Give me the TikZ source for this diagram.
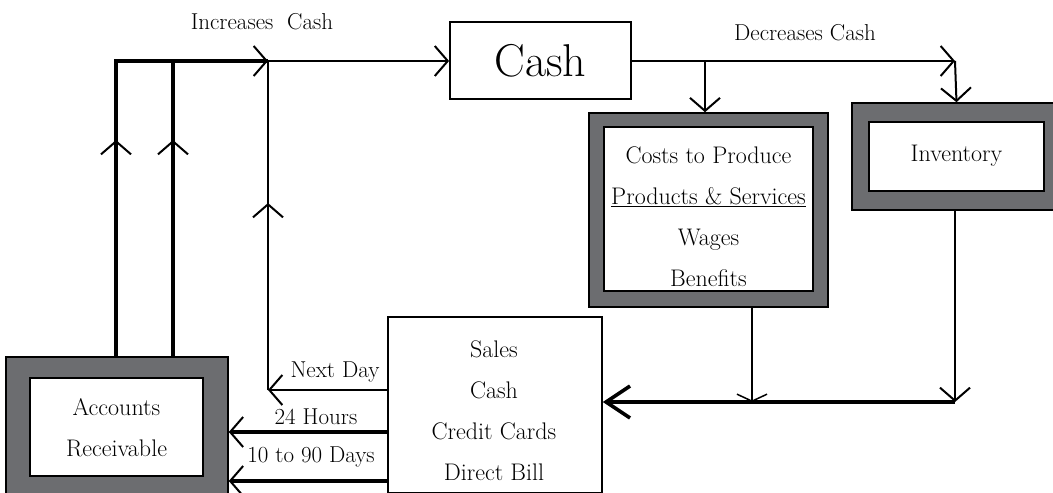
\documentclass[tikz,border=0pt]{standalone}
\usepackage{fontspec}
\usetikzlibrary{arrows.meta}
\definecolor{framegray}{RGB}{108,109,112}
\tikzset{
  cfouter/.style={fill=framegray, draw=black, line width=1.6pt, inner sep=0pt},
  cfinner/.style={fill=white, draw=black, line width=1.2pt, inner sep=0pt},
  cfplain/.style={fill=white, draw=black, line width=1.8pt, inner sep=0pt},
  cftext/.style={font=\fontsize{24}{41}\selectfont\addfontfeature{LetterSpace=2}, align=center, inner sep=0pt},
  cflabel/.style={font=\fontsize{23}{25}\selectfont\addfontfeature{LetterSpace=3}, inner sep=0pt},
  cfthick/.style={line width=3.2pt, draw=black},
  cfthin/.style={line width=2pt, draw=black},
  cfbarb/.style={-{Straight Barb[length=13pt, width=30pt, line width=2pt]}},
  cfflat/.style={-{Straight Barb[length=7pt, width=30pt, line width=1.5pt]}},
  cfbig/.style={-{Straight Barb[length=24pt, width=32pt, line width=3.6pt]}},
}

\begin{document}
\begin{tikzpicture}[x=1pt, y=-1pt]
\useasboundingbox (0,0) rectangle (1053,493);
% boxes
\node[cfplain, minimum width=181pt, minimum height=77pt, font=\fontsize{46}{50}\selectfont] (cash) at (540.5,60.5) {Cash};
\node[cfouter, minimum width=239pt, minimum height=194pt] (costs) at (708.5,210) {};
\node[cfinner, minimum width=209pt, minimum height=164pt] (costsin) at (708.5,209) {};
\node[cftext] (coststxt) at (708.5,217) {Costs to Produce\\\underline{Products \& Services}\\Wages\\Benefits};
\node[cfouter, minimum width=209pt, minimum height=107pt] (inv) at (956.5,156.5) {};
\node[cfinner, minimum width=175pt, minimum height=69pt] (invin) at (956.5,156.5) {};
\node[cftext] (invtxt) at (956.5,156) {Inventory};
\node[cfplain, minimum width=214pt, minimum height=176pt, anchor=north west] (sales) at (387,316) {};
\node[cftext] (salestxt) at (494,411) {Sales\\Cash\\Credit Cards\\Direct Bill};
\node[cfouter, minimum width=222pt, minimum height=140pt] (ar) at (117,427) {};
\node[cfinner, minimum width=173pt, minimum height=98pt] (arin) at (116.5,427) {};
\node[cftext] (artxt) at (116.5,428) {Accounts\\Receivable};
% junctions
\coordinate (tl) at (116,61);
\coordinate (j1) at (173,61);
\coordinate (j2) at (268,61);
\coordinate (nd) at (268,390);
\coordinate (cr) at (705,61);
\coordinate (ir) at (955,61);
\coordinate (cb) at (752,402);
\coordinate (ib) at (955,402);
\coordinate (h24) at (0,432);
\coordinate (d90) at (0,481);
\coordinate (up1) at (116,140);
\coordinate (up2) at (173,140);
\coordinate (up3) at (268,203);
% money coming in
\draw[cfthick] (tl |- ar.north) -- (tl) -- (j2);
\draw[cfthick, cfbarb] (tl |- ar.north) -- (up1);
\draw[cfthick] (j1 |- ar.north) -- (j1);
\draw[cfthick, cfbarb] (j1 |- ar.north) -- (up2);
\draw[cfthick, cfbarb] (tl) -- (j2);
\draw[cfthin, cfbarb] (j2) -- (cash.west |- j2);
\draw[cfthin] (nd) -- (j2);
\draw[cfthin, cfbarb] (nd) -- (up3);
\draw[cfthin, cfbarb] (sales.west |- nd) -- (nd);
\draw[cfthick, cfbarb] (sales.west |- h24) -- (ar.east |- h24);
\draw[cfthick, cfbarb] (sales.west |- d90) -- (ar.east |- d90);
% money going out
\draw[cfthin, cfbarb] (cash.east |- cr) -- (ir);
\draw[cfthin, cfbarb] (cr) -- (cr |- costs.north);
\draw[cfthin, cfbarb] (ir) -- (inv.north);
\draw[cfthin, cfflat] (cb |- costs.south) -- (cb);
\draw[cfthin, cfbarb] (ib |- inv.south) -- (ib);
\draw[cfthick, cfbig] (ib) -- (sales.east |- ib);
% labels
\node[cflabel] (inclbl) at (262,22) {Increases\ \ Cash};
\node[cflabel] (declbl) at (805,33) {Decreases Cash};
\node[cflabel] (ndlbl) at (335,372) {Next Day};
\node[cflabel] (h24lbl) at (316,417) {24 Hours};
\node[cflabel] (d90lbl) at (311,457) {10 to 90 Days};
\end{tikzpicture}
\end{document}
